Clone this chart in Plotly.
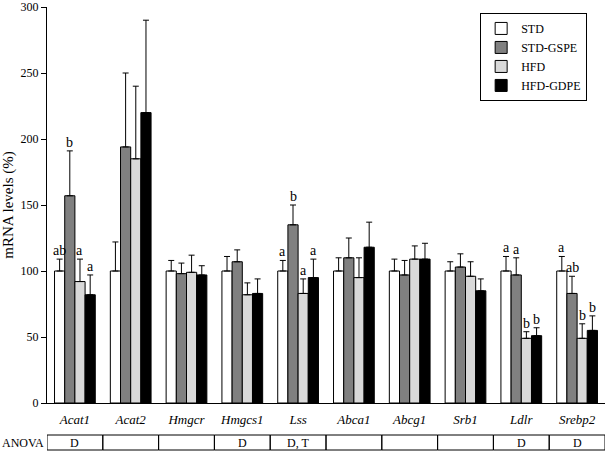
import plotly.graph_objects as go

genes = ["Acat1", "Acat2", "Hmgcr", "Hmgcs1", "Lss", "Abca1", "Abcg1", "Srb1", "Ldlr", "Srebp2"]
series_names = ["STD", "STD-GSPE", "HFD", "HFD-GDPE"]
std_vals = [100, 100, 100, 100, 100, 100, 100, 100, 100, 100]
gspe_vals = [157, 194, 98, 107, 135, 110, 97, 103, 97, 83]
hfd_vals = [92, 185, 99, 82, 83, 95, 109, 96, 49, 49]
gdpe_vals = [82, 220, 97, 83, 95, 118, 109, 85, 51, 55]
std_err = [9, 22, 8, 11, 8, 10, 9, 7, 11, 11]
gspe_err = [34, 56, 8, 9, 15, 15, 11, 10, 13, 13]
hfd_err = [17, 55, 13, 9, 11, 15, 10, 11, 5, 11]
gdpe_err = [15, 70, 7, 11, 14, 19, 12, 9, 6, 11]
std_letters = ["ab", "", "", "", "a", "", "", "", "a", "a"]
gspe_letters = ["b", "", "", "", "b", "", "", "", "a", "ab"]
hfd_letters = ["a", "", "", "", "a", "", "", "", "b", "b"]
gdpe_letters = ["a", "", "", "", "a", "", "", "", "b", "b"]
anova = ["D", "", "", "D", "D, T", "", "", "", "D", "D"]

colors = ["#ffffff", "#808080", "#d9d9d9", "#000000"]
vals = [std_vals, gspe_vals, hfd_vals, gdpe_vals]
errs = [std_err, gspe_err, hfd_err, gdpe_err]
letters = [std_letters, gspe_letters, hfd_letters, gdpe_letters]

FONT = "Liberation Serif, Times New Roman, serif"
W, H = 610, 452
ML, MR, MT, MB = 47, 5, 7, 49
BARGAP = 0.27

fig = go.Figure()
for name, v, e, c in zip(series_names, vals, errs, colors):
    fig.add_trace(go.Bar(
        x=genes, y=v, name=name,
        marker=dict(color=c, line=dict(color="black", width=1)),
        error_y=dict(type="data", symmetric=False, array=e, arrayminus=[0] * len(e),
                     color="black", thickness=1, width=3),
    ))

plot_w = W - ML - MR
plot_h = H - MT - MB
cat_w = plot_w / len(genes)
bar_w = cat_w * (1 - BARGAP) / 4

annotations = []
for i, (v, e, lt) in enumerate(zip(vals, errs, letters)):
    for j, g in enumerate(genes):
        if lt[j]:
            annotations.append(dict(
                x=g, y=v[j] + e[j], text=lt[j], showarrow=False,
                xshift=(i - 1.5) * bar_w, yanchor="bottom", yshift=-1,
                font=dict(family=FONT, size=14, color="#000000")))

# ANOVA row
row_top = -32 / plot_h
row_bot = -47 / plot_h
shapes = []
for j, g in enumerate(genes):
    shapes.append(dict(type="rect", xref="x", yref="paper",
                       x0=j - 0.5, x1=j + 0.5, y0=row_bot, y1=row_top,
                       line=dict(color="black", width=1), fillcolor="rgba(0,0,0,0)"))
    if anova[j]:
        annotations.append(dict(x=g, y=(row_top + row_bot) / 2, yref="paper",
                                text=anova[j], showarrow=False, yanchor="middle",
                                font=dict(family=FONT, size=12, color="#000000")))
annotations.append(dict(x=0, xref="paper", y=(row_top + row_bot) / 2, yref="paper",
                        text="ANOVA", showarrow=False, xanchor="right", yanchor="middle",
                        xshift=-1, font=dict(family=FONT, size=12, color="#000000")))

fig.update_layout(
    width=W, height=H,
    margin=dict(l=ML, r=MR, t=MT, b=MB, autoexpand=False),
    paper_bgcolor="white", plot_bgcolor="white",
    barmode="group", bargap=BARGAP, bargroupgap=0,
    font=dict(family=FONT, size=12, color="black"),
    showlegend=True,
    legend=dict(x=0.968, y=0.985, xanchor="right", yanchor="top",
                bordercolor="black", borderwidth=1, bgcolor="white",
                font=dict(family=FONT, size=12, color="black"),
                itemwidth=30, tracegroupgap=0),
    annotations=annotations,
    shapes=shapes,
)
fig.update_xaxes(range=[-0.5, len(genes) - 0.5], showline=True, linecolor="black", linewidth=1,
                 ticks="", showgrid=False, tickfont=dict(family=FONT, size=13, style="italic"),
                 ticklabelstandoff=4)
fig.update_yaxes(range=[0, 300], tickvals=[0, 50, 100, 150, 200, 250, 300],
                 showline=True, linecolor="black", linewidth=1, ticks="outside", ticklen=5,
                 tickcolor="black", showgrid=False, zeroline=False,
                 title=dict(text="mRNA levels (%)", font=dict(family=FONT, size=15), standoff=6),
                 tickfont=dict(family=FONT, size=12))

fig.write_html("out.html", config={"displayModeBar": False},
               post_script="document.body.style.margin='0';document.body.style.overflow='hidden';")
